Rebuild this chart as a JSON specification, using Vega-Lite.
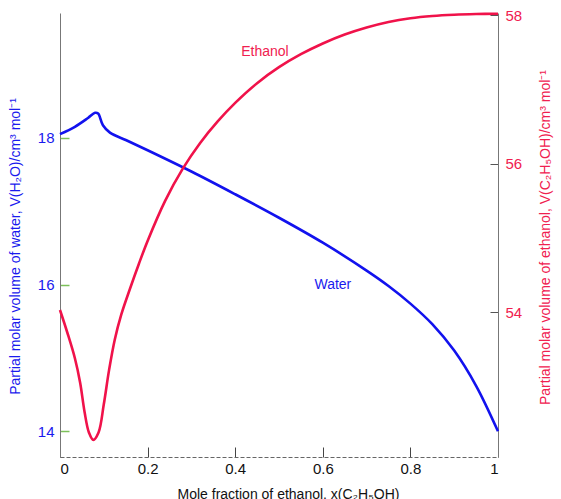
{
  "$schema": "https://vega.github.io/schema/vega-lite/v6.json",
  "width": 438,
  "height": 444,
  "autosize": {"type": "none"},
  "padding": {"left": 60, "top": 13, "right": 63, "bottom": 42},
  "background": "white",
  "config": {
    "view": {"stroke": null},
    "font": "Liberation Sans",
    "axis": {"grid": false, "labelFont": "Liberation Sans", "titleFont": "Liberation Sans", "titleFontWeight": "normal", "labelFontSize": 15, "titleFontSize": 14}
  },
  "datasets": {
    "water": [
      {"x": 0.0, "v": 18.05},
      {"x": 0.034, "v": 18.15},
      {"x": 0.064, "v": 18.27},
      {"x": 0.08, "v": 18.34},
      {"x": 0.087, "v": 18.33},
      {"x": 0.098, "v": 18.17},
      {"x": 0.114, "v": 18.07},
      {"x": 0.15, "v": 17.97},
      {"x": 0.2, "v": 17.83},
      {"x": 0.3, "v": 17.54},
      {"x": 0.4, "v": 17.23},
      {"x": 0.5, "v": 16.91},
      {"x": 0.6, "v": 16.57},
      {"x": 0.7, "v": 16.19},
      {"x": 0.75, "v": 15.98},
      {"x": 0.8, "v": 15.74},
      {"x": 0.85, "v": 15.46},
      {"x": 0.9, "v": 15.1},
      {"x": 0.95, "v": 14.62},
      {"x": 1.0, "v": 14.0}
    ],
    "ethanol": [
      {"x": 0.0, "v": 54.03},
      {"x": 0.017, "v": 53.72},
      {"x": 0.034, "v": 53.38},
      {"x": 0.046, "v": 53.05},
      {"x": 0.056, "v": 52.66},
      {"x": 0.066, "v": 52.38},
      {"x": 0.076, "v": 52.28},
      {"x": 0.088, "v": 52.38},
      {"x": 0.1, "v": 52.76},
      {"x": 0.112, "v": 53.22},
      {"x": 0.125, "v": 53.63},
      {"x": 0.14, "v": 53.97},
      {"x": 0.16, "v": 54.32},
      {"x": 0.18, "v": 54.65},
      {"x": 0.2, "v": 54.96},
      {"x": 0.24, "v": 55.5},
      {"x": 0.28, "v": 55.93},
      {"x": 0.32, "v": 56.28},
      {"x": 0.36, "v": 56.57},
      {"x": 0.4, "v": 56.82},
      {"x": 0.45, "v": 57.085},
      {"x": 0.5, "v": 57.3},
      {"x": 0.55, "v": 57.475},
      {"x": 0.6, "v": 57.62},
      {"x": 0.65, "v": 57.74},
      {"x": 0.7, "v": 57.835},
      {"x": 0.75, "v": 57.91},
      {"x": 0.8, "v": 57.96},
      {"x": 0.85, "v": 57.99},
      {"x": 0.9, "v": 58.007},
      {"x": 0.95, "v": 58.016},
      {"x": 1.0, "v": 58.02}
    ],
    "waterLabel": [{"x": 0.623, "v": 15.99, "label": "Water"}],
    "ethanolLabel": [{"x": 0.468, "v": 57.5, "label": "Ethanol"}]
  },
  "layer": [
    {
      "encoding": {
        "x": {
          "field": "x", "type": "quantitative",
          "scale": {"domain": [0, 1], "nice": false, "zero": false},
          "axis": {
            "orient": "bottom",
            "values": [0, 0.2, 0.4, 0.6, 0.8, 1],
            "labelExpr": "format(datum.value, '~g')",
            "title": "Mole fraction of ethanol, x(C₂H₅OH)",
            "titleColor": "#111",
            "titleX": 228, "titleY": 37, "titleBaseline": "middle", "titleAlign": "center", "titleAnchor": null,
            "domainColor": "#666", "domainDash": [4, 2],
            "tickColor": "#444", "tickSize": -10,
            "labelPadding": 14, "labelColor": "#111"
          }
        },
        "y": {
          "field": "v", "type": "quantitative",
          "scale": {"domain": [13.65, 19.7], "nice": false, "zero": false},
          "axis": {
            "orient": "left",
            "values": [14, 16, 18],
            "title": "Partial molar volume of water, V(H₂O)/cm³ mol⁻¹",
            "titleColor": "#1a1aee",
            "titleAngle": 270, "titleX": -45, "titleY": 233, "titleBaseline": "middle", "titleAlign": "center", "titleAnchor": null,
            "domainColor": "#777",
            "tickColor": "#7cc05a", "tickSize": -9, "tickWidth": 1.5,
            "labelPadding": 15, "labelColor": "#1a1aee"
          }
        }
      },
      "layer": [
        {"data": {"name": "water"}, "mark": {"type": "line", "color": "#1212ee", "strokeWidth": 2.6, "interpolate": "catmull-rom"}},
        {"data": {"name": "waterLabel"}, "mark": {"type": "text", "color": "#1a1aee", "fontSize": 14, "font": "Liberation Sans"}, "encoding": {"text": {"field": "label"}}}
      ]
    },
    {
      "encoding": {
        "x": {"field": "x", "type": "quantitative", "scale": {"domain": [0, 1], "nice": false, "zero": false}},
        "y": {
          "field": "v", "type": "quantitative",
          "scale": {"domain": [52.05, 58.03], "nice": false, "zero": false},
          "axis": {
            "orient": "right",
            "values": [54, 56, 58],
            "title": "Partial molar volume of ethanol, V(C₂H₅OH)/cm³ mol⁻¹",
            "titleColor": "#f0204f",
            "titleAngle": 270, "titleX": 47, "titleY": 224, "titleBaseline": "middle", "titleAlign": "center", "titleAnchor": null,
            "domainColor": "#777",
            "tickColor": "#555", "tickSize": -8,
            "labelPadding": 15, "labelColor": "#f0204f"
          }
        }
      },
      "layer": [
        {"data": {"name": "ethanol"}, "mark": {"type": "line", "color": "#f0124a", "strokeWidth": 2.6, "interpolate": "catmull-rom"}},
        {"data": {"name": "ethanolLabel"}, "mark": {"type": "text", "color": "#f0204f", "fontSize": 14, "font": "Liberation Sans"}, "encoding": {"text": {"field": "label"}}}
      ]
    }
  ],
  "resolve": {"scale": {"y": "independent"}}
}
